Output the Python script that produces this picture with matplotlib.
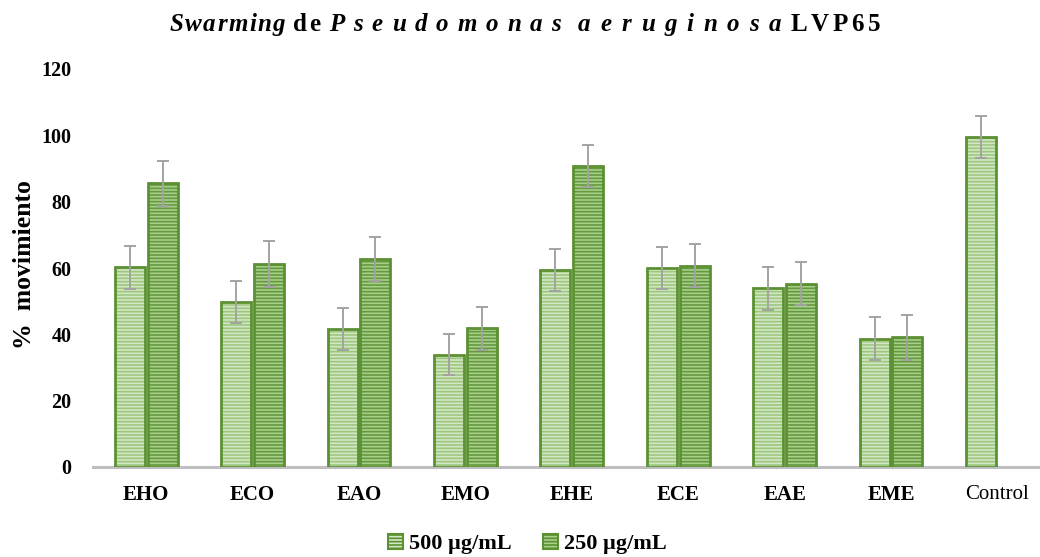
import numpy as np
import matplotlib.pyplot as plt
from matplotlib.patches import Patch

plt.rcParams['font.family'] = ['Liberation Serif', 'DejaVu Serif']
plt.rcParams['hatch.linewidth'] = 1.2

categories = ['EHO', 'ECO', 'EAO', 'EMO', 'EHE', 'ECE', 'EAE', 'EME', 'Control']
v500 = [60.2, 49.8, 41.7, 33.9, 59.4, 60.1, 53.9, 38.7, 99.6]
e500 = [6.4, 6.3, 6.3, 6.3, 6.3, 6.3, 6.5, 6.4, 6.3]
v250 = [85.5, 61.2, 62.6, 41.8, 90.8, 60.7, 55.2, 39.1]
e250 = [6.8, 6.8, 6.6, 6.5, 6.4, 6.5, 6.5, 6.7]
series = ['500 µg/mL', '250 µg/mL']

edge = '#5b9132'
face500, stripe500 = '#d3e6c6', '#9cc77c'
face250, stripe250 = '#a8d08a', '#65993f'
errc = '#a3a3a3'
HATCH = '-----'

W, H = 1040, 557
fig = plt.figure(figsize=(W / 100, H / 100), dpi=100)
ax = fig.add_axes([93 / W, 1 - 467 / H, 957.6 / W, 398 / H])

w = 0.282
off = 0.155
x = np.arange(len(categories))
x2 = np.arange(len(v250))

def hbars(xs, vals, face, stripe):
    # striped fill first, outline on top
    ax.bar(xs, vals, w, color=face, edgecolor=stripe, hatch=HATCH, linewidth=0, zorder=2)
    ax.bar(xs, vals, w, fill=False, edgecolor=edge, linewidth=2, zorder=3)

hbars(x - off, v500, face500, stripe500)
hbars(x2 + off, v250, face250, stripe250)

ebkw = dict(fmt='none', ecolor=errc, elinewidth=1.4, capsize=4.6, capthick=1.4, zorder=4)
ax.errorbar(x - off, v500, yerr=e500, **ebkw)
ax.errorbar(x2 + off, v250, yerr=e250, **ebkw)

ax.set_xlim(-0.5, 8.5)
ax.set_ylim(0, 120)
ax.set_yticks(np.arange(0, 121, 20))
ax.set_yticklabels([str(t) for t in range(0, 121, 20)], fontsize=14.5, fontweight='bold')
ax.set_xticks(x)
ax.set_xticklabels(categories, fontsize=15)
for lab in ax.get_xticklabels():
    if lab.get_text() != 'Control':
        lab.set_fontweight('bold')
ax.tick_params(axis='both', length=0)
ax.tick_params(axis='y', pad=15.5)
ax.tick_params(axis='x', pad=13)
for s in ['top', 'right', 'left']:
    ax.spines[s].set_visible(False)
ax.spines['bottom'].set_color('#bfbfbf')
ax.spines['bottom'].set_linewidth(2.2)

fig.text(25 / W, 1 - 265 / H, '%  movimiento', rotation=90, fontsize=18.5, fontweight='bold',
         ha='center', va='center')

# title: letter-spaced words, each spread over its span in the reference
title_words = [('Swarming', 'italic', 170, 285), ('de', 'normal', 293, 320),
               ('Pseudomonas', 'italic', 329, 561), ('aeruginosa', 'italic', 578, 781),
               ('LVP65', 'normal', 791, 880)]
renderer = fig.canvas.get_renderer()
ybase = 1 - 31 / H
for word, style, x0, x1 in title_words:
    chars = [fig.text(0, ybase, ch, fontsize=18, fontweight='bold', style=style,
                      ha='left', va='baseline') for ch in word]
    widths = [t.get_window_extent(renderer).width for t in chars]
    gap = max((x1 - x0 - sum(widths)) / max(len(chars) - 1, 1), 0.5)
    pos = x0
    for t, cw in zip(chars, widths):
        t.set_x(pos / W)
        pos += cw + gap

handles = [Patch(facecolor=face500, edgecolor=edge, hatch=HATCH, linewidth=1.5),
           Patch(facecolor=face250, edgecolor=edge, hatch=HATCH, linewidth=1.5)]
fig.legend(handles, series, loc='center', bbox_to_anchor=(527 / W, 1 - 544 / H), ncol=2,
           frameon=False, prop={'size': 16, 'weight': 'bold'}, handlelength=0.7, handleheight=0.7,
           handletextpad=0.25, columnspacing=1.4, borderpad=0)

fig.savefig('out.png', dpi=100)
